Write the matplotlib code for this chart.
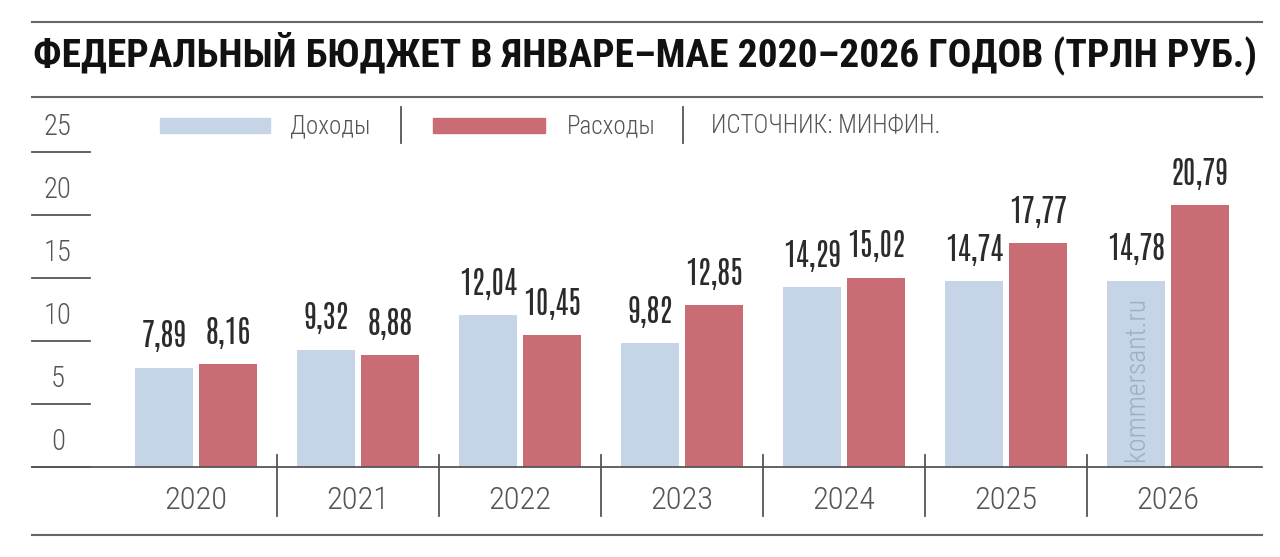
import matplotlib
matplotlib.use("Agg")
import matplotlib.pyplot as plt
from matplotlib.lines import Line2D
from matplotlib.patches import Rectangle

# data
years = ["2020", "2021", "2022", "2023", "2024", "2025", "2026"]
dohody = [7.89, 9.32, 12.04, 9.82, 14.29, 14.74, 14.78]
rashody = [8.16, 8.88, 10.45, 12.85, 15.02, 17.77, 20.79]
yticks = [0, 5, 10, 15, 20, 25]

title = "ФЕДЕРАЛЬНЫЙ БЮДЖЕТ В ЯНВАРЕ–МАЕ 2020–2026 ГОДОВ (ТРЛН РУБ.)"

BLUE = "#c6d4e7"
RED = "#c96c74"
GREY = "#555555"
NUMF = ["Antonio", "Sofia Sans Extra Condensed", "DejaVu Sans"]
CONDF = ["Roboto Condensed", "Sofia Sans Condensed", "DejaVu Sans"]
BOLDF = ["Roboto Condensed", "Roboto", "DejaVu Sans"]

W, H = 1280, 557
fig = plt.figure(figsize=(W / 100, H / 100), dpi=100)
renderer = fig.canvas.get_renderer()

def fx(x):
    return x / W

def fy(y):
    return 1 - y / H

def fit(texts, ref, width, vertical=False):
    # scale font size so the ref text's rendered size matches the reference
    bb = ref.get_window_extent(renderer)
    w = bb.height if vertical else bb.width
    k = width / w
    for t in texts:
        t.set_fontsize(t.get_fontsize() * k)

# axes: baseline at 467 px from top, 12.6 px per unit, 162 px per year
ax = fig.add_axes([fx(32), fy(467), (1262 - 32) / W, (467 - 100) / H])
ax.set_xlim(-1.012, 6.58)
ax.set_ylim(0, (467 - 100) / 12.6)
ax.axis("off")

x = list(range(len(years)))
off = 32 / 162
bw = 58 / 162
ax.bar([i - off for i in x], dohody, width=bw, color=BLUE, zorder=2)
ax.bar([i + off for i in x], rashody, width=bw, color=RED, zorder=2)

labels = []
for i in x:
    for val, dx in ((dohody[i], -off), (rashody[i], off)):
        t = ax.annotate(f"{val:.2f}".replace(".", ","), (i + dx, val),
                        xytext=(0, 11), textcoords="offset points",
                        ha="center", va="bottom", fontsize=30,
                        fontweight="light", family=NUMF, color="#2b2b2b")
        labels.append(t)
fit(labels, labels[12], 58)  # "14,78"

# y ticks as short lines with labels above
tl = []
for t in yticks:
    ax.plot([-1.012, -0.654], [t, t], color=GREY, lw=1.3, clip_on=False)
    tl.append(ax.annotate(str(t), (-0.852, t), xytext=(0, 8),
                          textcoords="offset points", ha="center",
                          va="bottom", fontsize=20, fontweight="light",
                          family=CONDF, color=GREY))
fit(tl, tl[-1], 28)

# baseline and year separators
ax.plot([-1.012, 6.58], [0, 0], color=GREY, lw=1.3, clip_on=False)
for i in x[:-1]:
    ax.plot([i + 0.5, i + 0.5], [0.95, -3.9], color=GREY, lw=1.3,
            clip_on=False)
yl = []
for i, yr in enumerate(years):
    yl.append(ax.annotate(yr, (i, 0), xytext=(0, -24),
                          textcoords="offset points", ha="center",
                          va="center", fontsize=23, fontweight="light",
                          family=CONDF, color=GREY))
fit(yl, yl[0], 63)

# watermark
wm = ax.text(6 - off, 0.5, "kommersant.ru", rotation=90, ha="center",
             va="bottom", fontsize=17, fontweight="light", family=CONDF,
             color="#9eaec6", zorder=3)
fit([wm], wm, 165, vertical=True)

# frame lines and title
for yy in (22, 97, 535):
    fig.add_artist(Line2D([fx(32), fx(1262)], [fy(yy), fy(yy)],
                          color="#666666", lw=1.5))
tt = fig.text(fx(33), fy(53), title, ha="left", va="center", fontsize=27,
              fontweight="heavy", family=BOLDF, color="#111111")
fit([tt], tt, 1223)

# legend
fig.add_artist(Rectangle((fx(160), fy(133)), 110 / W, 15 / H,
                         color=BLUE, transform=fig.transFigure))
fig.add_artist(Rectangle((fx(433), fy(133)), 112 / W, 15 / H,
                         color=RED, transform=fig.transFigure))
lg1 = fig.text(fx(290), fy(126), "Доходы", ha="left", va="center",
               fontsize=17, fontweight="light", family=CONDF, color=GREY)
lg2 = fig.text(fx(567), fy(126), "Расходы", ha="left", va="center",
               fontsize=17, fontweight="light", family=CONDF, color=GREY)
lg3 = fig.text(fx(711), fy(126), "ИСТОЧНИК: МИНФИН.", ha="left",
               va="center", fontsize=17, fontweight="light", family=CONDF,
               color=GREY)
fit([lg1, lg2, lg3], lg3, 229)
for xx in (401, 683):
    fig.add_artist(Line2D([fx(xx), fx(xx)], [fy(107), fy(143)],
                          color=GREY, lw=1.3))

fig.savefig("out.png", dpi=100, facecolor="white")
